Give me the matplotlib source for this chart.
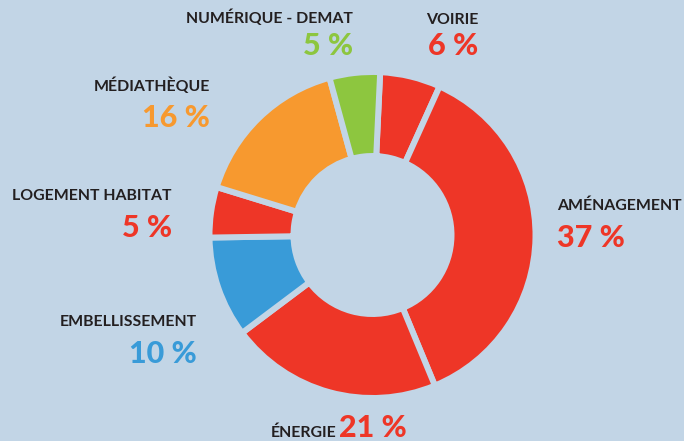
import matplotlib.pyplot as plt

# Répartition des investissements
categories = ['VOIRIE', 'AMÉNAGEMENT', 'ÉNERGIE', 'EMBELLISSEMENT',
              'LOGEMENT HABITAT', 'MÉDIATHÈQUE', 'NUMÉRIQUE - DEMAT']
values = [6, 37, 21, 10, 5, 16, 5]
colors = ['#ee3627', '#ee3627', '#ee3627', '#399bd8',
          '#ee3627', '#f7992f', '#8dc63f']

bg = '#c2d5e6'
dark = '#231f20'

W, H = 684, 441
fig = plt.figure(figsize=(W / 100, H / 100), dpi=100, facecolor=bg)
ax = fig.add_axes([0, 0, 1, 1])
ax.set_facecolor(bg)

ax.pie(values, colors=colors, startangle=87.3, counterclock=False,
       center=(372.5, H - 235), radius=163,
       wedgeprops=dict(width=84, edgecolor=bg, linewidth=4.3))
ax.set_xlim(0, W)
ax.set_ylim(0, H)
ax.set_aspect('equal')
ax.axis('off')

lab_font = dict(family='Lato', fontweight='bold', fontsize=11.4, color=dark)
pct_font = dict(family='Lato', fontweight='black', fontsize=22)

# (x, y du libellé, y du pourcentage, alignement) en pixels
pos = {
    'VOIRIE': (478, 20, 46, 'right'),
    'AMÉNAGEMENT': (557, 206, 238, 'left'),
    'EMBELLISSEMENT': (197, 322, 354, 'right'),
    'LOGEMENT HABITAT': (172, 196, 228, 'right'),
    'MÉDIATHÈQUE': (210, 86, 118, 'right'),
    'NUMÉRIQUE - DEMAT': (353, 18, 46, 'right'),
}

for cat, val, col in zip(categories, values, colors):
    if cat in pos:
        x, yl, yp, ha = pos[cat]
        ax.text(x, H - yl, cat, ha=ha, va='center', **lab_font)
        ax.text(x, H - yp, f'{val} %', ha=ha, va='center', color=col, **pct_font)

# Énergie : libellé et pourcentage sur la même ligne
i = categories.index('ÉNERGIE')
ax.text(336, H - 437, categories[i], ha='right', va='baseline', **lab_font)
ax.text(339, H - 437, f'{values[i]} %', ha='left', va='baseline',
        color=colors[i], **pct_font)

fig.savefig('out.png', dpi=100, facecolor=bg)
